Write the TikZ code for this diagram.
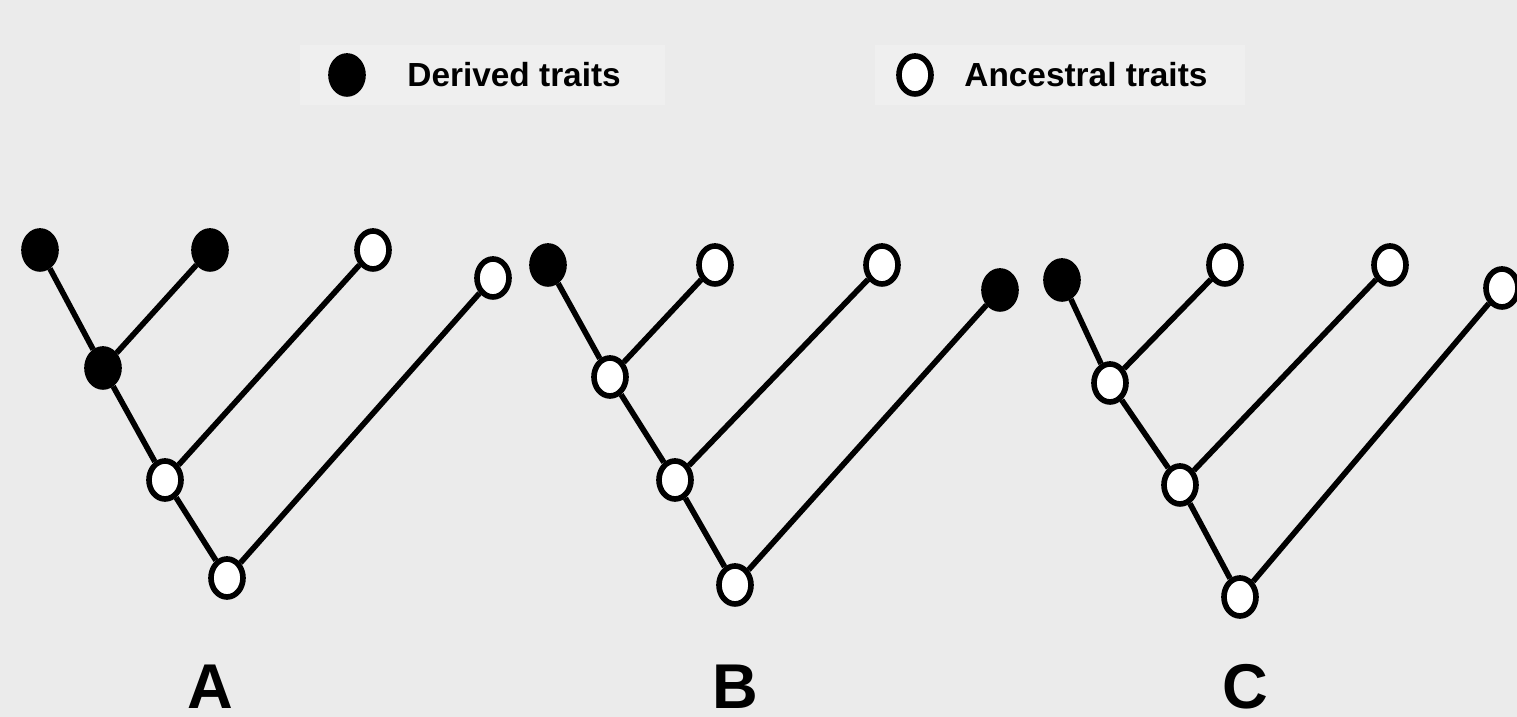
\documentclass[tikz,border=0pt]{standalone}
\usepackage{fontspec}
\setmainfont{Liberation Sans}
\usetikzlibrary{shapes.geometric}
\definecolor{bgcol}{HTML}{EBEBEB}
\definecolor{keycol}{HTML}{EFEFEF}
\tikzset{
  derived/.style={ellipse, draw, fill=black, line width=1.6pt,
    minimum width=0.32cm, minimum height=0.38cm, inner sep=0pt},
  ancestral/.style={ellipse, draw, fill=white, line width=1.6pt,
    minimum width=0.32cm, minimum height=0.38cm, inner sep=0pt},
  branch/.style={line width=1.6pt},
  keytext/.style={anchor=west, font=\bfseries\fontsize{9.5}{10}\selectfont},
  treelabel/.style={font=\bfseries\fontsize{18}{20}\selectfont}
}
\begin{document}
\begin{tikzpicture}
    \fill [bgcol] (0,0) rectangle (15.17,7.17);
    \useasboundingbox (0,0) rectangle (15.17,7.17);
    % key
    \fill [keycol] (3.00,6.12) rectangle (6.65,6.72);
    \fill [keycol] (8.75,6.12) rectangle (12.45,6.72);
    \node [derived] (kd) at (3.47,6.42) {};
    \node [keytext] (kdt) at (3.95,6.42) {Derived traits};
    \node [ancestral] (ka) at (9.15,6.42) {};
    \node [keytext] (kat) at (9.52,6.42) {Ancestral traits};
    % tree A
    \node [derived] (a1) at (0.40,4.67) {};
    \node [derived] (a2) at (2.10,4.67) {};
    \node [ancestral] (a3) at (3.73,4.67) {};
    \node [ancestral] (a4) at (4.93,4.39) {};
    \node [derived] (a5) at (1.03,3.49) {};
    \node [ancestral] (a6) at (1.65,2.37) {};
    \node [ancestral] (a7) at (2.27,1.39) {};
    \draw [branch] (a1) -- (a5);
    \draw [branch] (a2) -- (a5);
    \draw [branch] (a5) -- (a6);
    \draw [branch] (a3) -- (a6);
    \draw [branch] (a6) -- (a7);
    \draw [branch] (a4) -- (a7);
    \node [treelabel] (la) at (2.10,0.30) {A};
    % tree B
    \node [derived] (b1) at (5.48,4.52) {};
    \node [ancestral] (b2) at (7.15,4.52) {};
    \node [ancestral] (b3) at (8.82,4.52) {};
    \node [derived] (b4) at (10.00,4.27) {};
    \node [ancestral] (b5) at (6.10,3.40) {};
    \node [ancestral] (b6) at (6.75,2.37) {};
    \node [ancestral] (b7) at (7.35,1.32) {};
    \draw [branch] (b1) -- (b5);
    \draw [branch] (b2) -- (b5);
    \draw [branch] (b5) -- (b6);
    \draw [branch] (b3) -- (b6);
    \draw [branch] (b6) -- (b7);
    \draw [branch] (b4) -- (b7);
    \node [treelabel] (lb) at (7.35,0.30) {B};
    % tree C
    \node [derived] (c1) at (10.62,4.37) {};
    \node [ancestral] (c2) at (12.25,4.52) {};
    \node [ancestral] (c3) at (13.90,4.52) {};
    \node [ancestral] (c4) at (15.02,4.29) {};
    \node [ancestral] (c5) at (11.10,3.34) {};
    \node [ancestral] (c6) at (11.80,2.32) {};
    \node [ancestral] (c7) at (12.40,1.20) {};
    \draw [branch] (c1) -- (c5);
    \draw [branch] (c2) -- (c5);
    \draw [branch] (c5) -- (c6);
    \draw [branch] (c3) -- (c6);
    \draw [branch] (c6) -- (c7);
    \draw [branch] (c4) -- (c7);
    \node [treelabel] (lc) at (12.45,0.30) {C};
\end{tikzpicture}
\end{document}
